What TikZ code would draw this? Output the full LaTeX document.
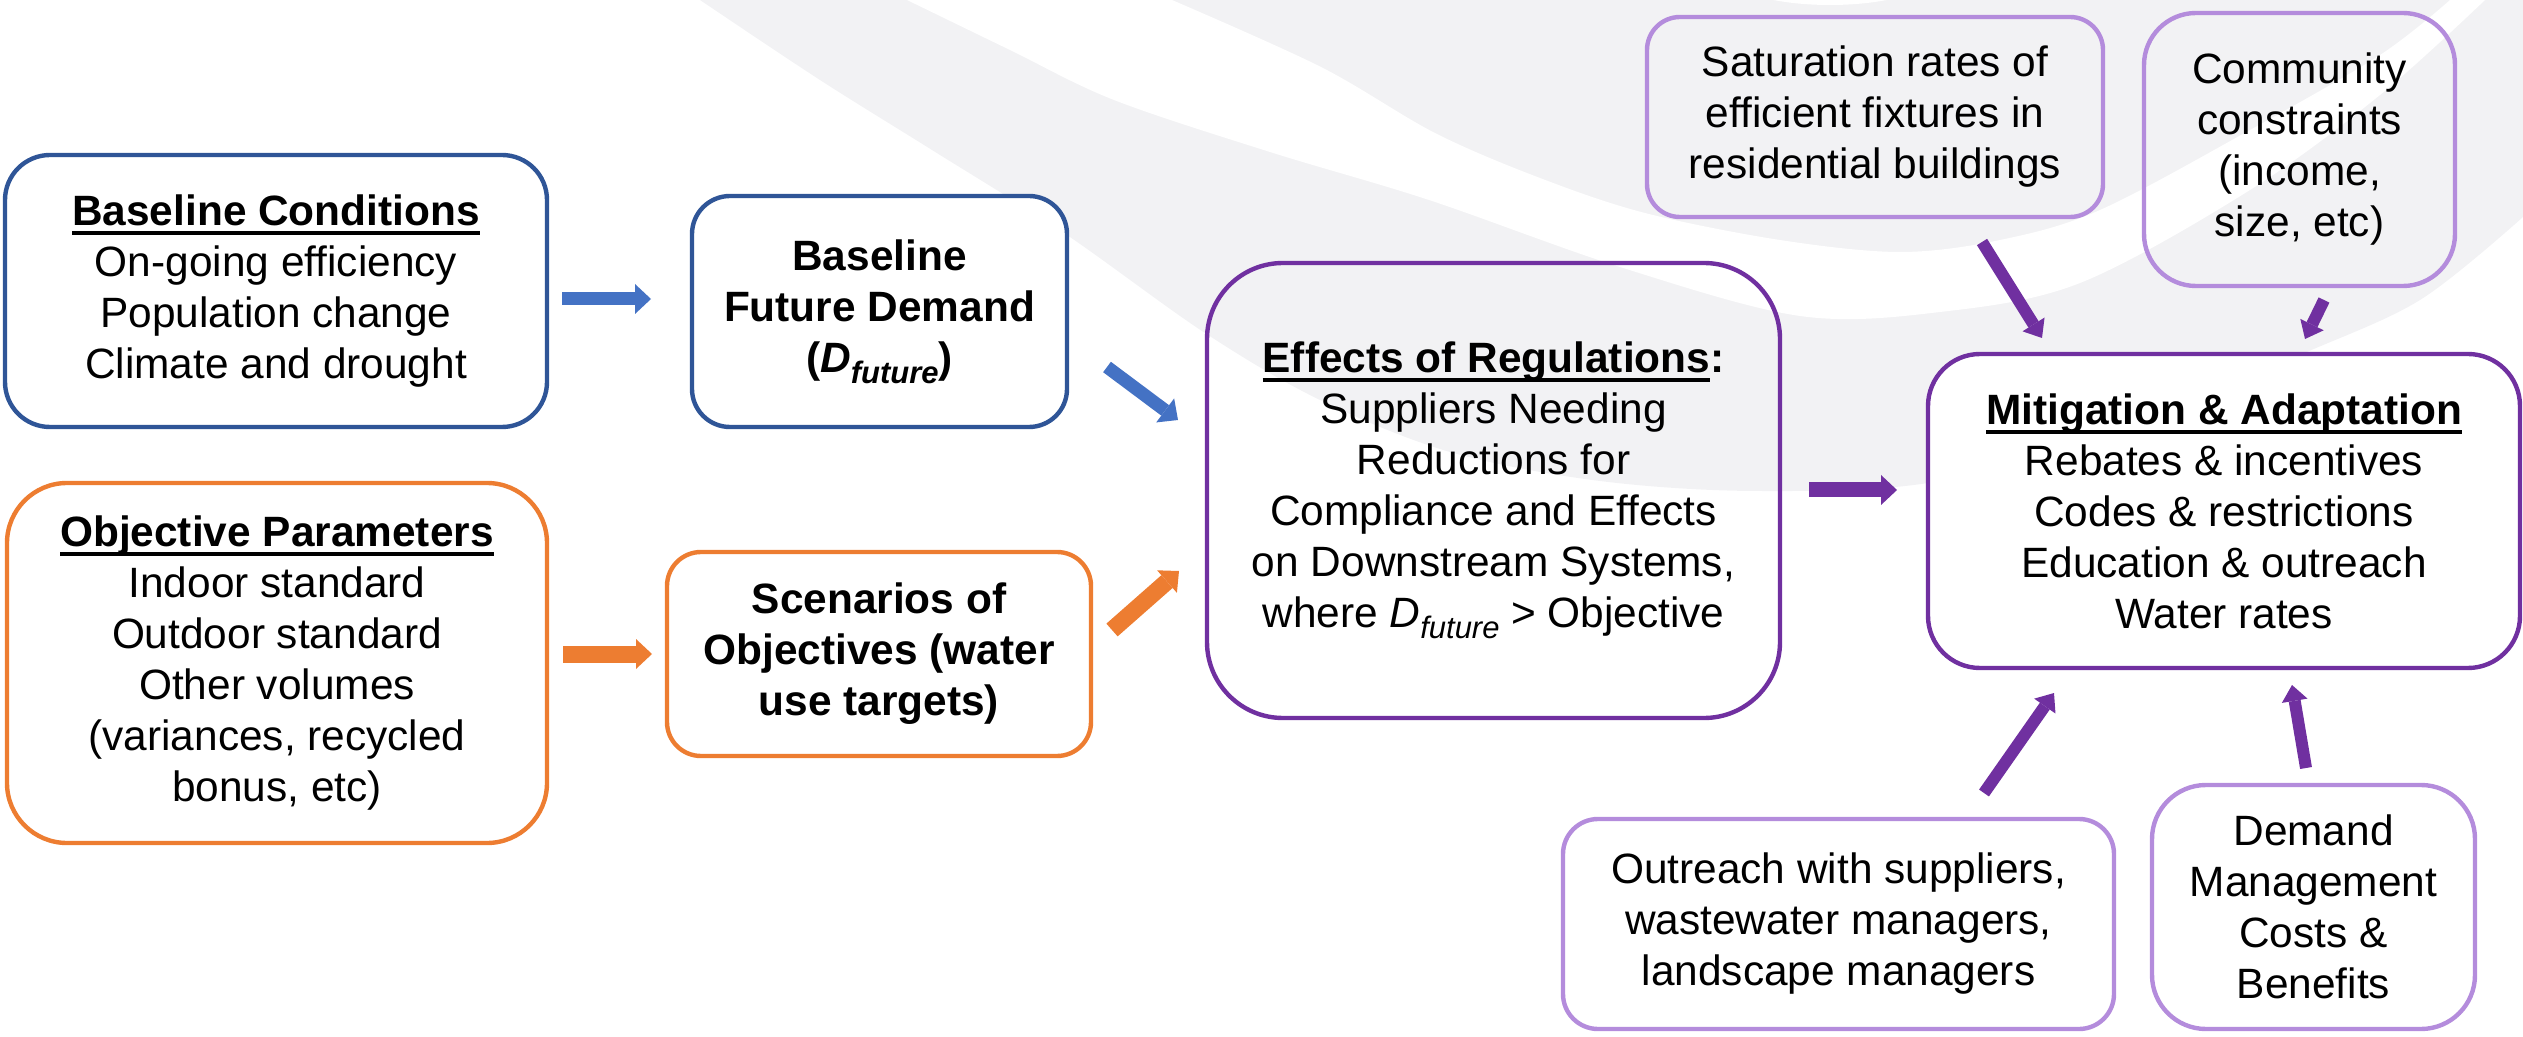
\documentclass[tikz,border=0pt]{standalone}
\usepackage{fontspec}
\setmainfont{Liberation Sans}
\usetikzlibrary{arrows.meta}

\definecolor{bgray}{HTML}{F2F2F4}
\definecolor{navy}{HTML}{2F5597}
\definecolor{arrblue}{HTML}{4472C4}
\definecolor{orng}{HTML}{ED7D31}
\definecolor{purp}{HTML}{7030A0}
\definecolor{lilac}{HTML}{B48CDC}

% underline at a fixed depth below the baseline
\newsavebox{\ulbox}
\newcommand{\ulbar}[1]{\sbox{\ulbox}{#1}\rlap{\rule[-4.8pt]{\wd\ulbox}{2pt}}\usebox{\ulbox}}

% D with an italic "future" subscript
\newcommand{\Dfut}{\textit{D}\raisebox{-5.5pt}{\fontsize{15.5}{15.5}\selectfont\textit{future}}}

\tikzset{
  bx/.style={draw, line width=2.2pt, align=center, inner sep=0pt},
  blk/.style={-{Triangle[width=#1,length=8pt,line width=0pt]}},
  blk/.default=15pt
}

\begin{document}
\begin{tikzpicture}[x=0.5pt, y=-0.5pt, font=\fontsize{21.2}{25.5}\selectfont]
\useasboundingbox (0,0) rectangle (2523,1037);

% background swoosh
\fill[bgray] plot[smooth, tension=0.55] coordinates {
  (700,0) (820,80) (932,150) (1064,233) (1205,333) (1320,400) (1450,452)
  (1600,481) (1760,491) (1940,481) (2150,420) (2300,355) (2420,300) (2523,217)}
  -- (2523,0) -- cycle;
\fill[white] plot[smooth, tension=0.55] coordinates {
  (907,0) (1010,50) (1114,100) (1270,152) (1429,200) (1620,267) (1800,316)
  (1940,312) (2080,283) (2250,190) (2380,95) (2485,0)}
  -- plot[smooth, tension=0.55] coordinates {
  (2450,0) (2380,55) (2250,130) (2100,210) (2000,240) (1900,252) (1780,240)
  (1645,213) (1540,178) (1435,133) (1321,67) (1172,0)} -- cycle;
\fill[white] (1830,-30) ellipse [x radius=110, y radius=35];

% boxes
\node[bx, draw=navy, fill=white, minimum width=271pt, minimum height=136pt,
  rounded corners=22.5pt] (bc) at (276,291)
  {\ulbar{\textbf{Baseline Conditions}}\\On-going efficiency\\Population change\\Climate and drought};
\node[bx, draw=navy, fill=white, minimum width=187.5pt, minimum height=115.5pt,
  rounded corners=19pt, font=\fontsize{21.2}{25.5}\selectfont\bfseries] (bfd) at (879.5,311.5)
  {Baseline\\Future Demand\\(\Dfut)};
\node[bx, draw=orng, fill=white, minimum width=270pt, minimum height=180pt,
  rounded corners=30pt] (op) at (277,663)
  {\ulbar{\textbf{Objective Parameters}}\\Indoor standard\\Outdoor standard\\Other volumes\\(variances, recycled\\bonus, etc)};
\node[bx, draw=orng, fill=white, minimum width=212pt, minimum height=102pt,
  rounded corners=17pt, font=\fontsize{21.2}{25.5}\selectfont\bfseries] (scen) at (879,654)
  {Scenarios of\\Objectives (water\\use targets)};
\node[bx, draw=purp, minimum width=286.5pt, minimum height=227.5pt,
  rounded corners=38pt] (eff) at (1493.5,490.5)
  {\ulbar{\textbf{Effects of Regulations}}\textbf{:}\\Suppliers Needing\\Reductions for\\Compliance and Effects\\on Downstream Systems,\\where \Dfut{} > Objective};
\node[bx, draw=purp, fill=white, minimum width=296pt, minimum height=157pt,
  rounded corners=26pt] (ma) at (2224,511)
  {\ulbar{\textbf{Mitigation \& Adaptation}}\\Rebates \& incentives\\Codes \& restrictions\\Education \& outreach\\Water rates};
\node[bx, draw=lilac, minimum width=228pt, minimum height=100pt,
  rounded corners=16.5pt] (sat) at (1875,117)
  {Saturation rates of\\efficient fixtures in\\residential buildings};
\node[bx, draw=lilac, minimum width=155.5pt, minimum height=136.5pt,
  rounded corners=26pt] (comm) at (2299.5,149.5)
  {Community\\constraints\\(income,\\size, etc)};
\node[bx, draw=lilac, fill=white, minimum width=275.5pt, minimum height=105pt,
  rounded corners=17.5pt] (out) at (1838.5,924)
  {Outreach with suppliers,\\wastewater managers,\\landscape managers};
\node[bx, draw=lilac, fill=white, minimum width=161.5pt, minimum height=122pt,
  rounded corners=27pt] (dm) at (2313.5,907)
  {Demand\\Management\\Costs \&\\Benefits};

% arrow end points
\coordinate (a1s) at (562,299);   \coordinate (a1e) at (651,299);
\coordinate (a2s) at (563,654);   \coordinate (a2e) at (652,654);
\coordinate (a3s) at (1107,367);  \coordinate (a3e) at (1178,420);
\coordinate (a4s) at (1112,630);  \coordinate (a4e) at (1179,571);
\coordinate (a5s) at (1809,490);  \coordinate (a5e) at (1897,490);
\coordinate (a6s) at (1982,242);  \coordinate (a6e) at (2042,338);
\coordinate (a7s) at (2324,300);  \coordinate (a7e) at (2305,339);
\coordinate (a8s) at (1984,793);  \coordinate (a8e) at (2054,693);
\coordinate (a9s) at (2306,768);  \coordinate (a9e) at (2292,685);

% block arrows
\draw[blk, arrblue, line width=6.5pt] (a1s) -- (a1e);
\draw[blk, orng, line width=8.5pt] (a2s) -- (a2e);
\draw[blk, arrblue, line width=6.5pt] (a3s) -- (a3e);
\draw[blk, orng, line width=8.5pt] (a4s) -- (a4e);
\draw[blk, purp, line width=7.5pt] (a5s) -- (a5e);
\draw[blk=13pt, purp, line width=6pt] (a6s) -- (a6e);
\draw[blk=13pt, purp, line width=6pt] (a7s) -- (a7e);
\draw[blk=13pt, purp, line width=6pt] (a8s) -- (a8e);
\draw[blk=13pt, purp, line width=6pt] (a9s) -- (a9e);
\end{tikzpicture}
\end{document}
